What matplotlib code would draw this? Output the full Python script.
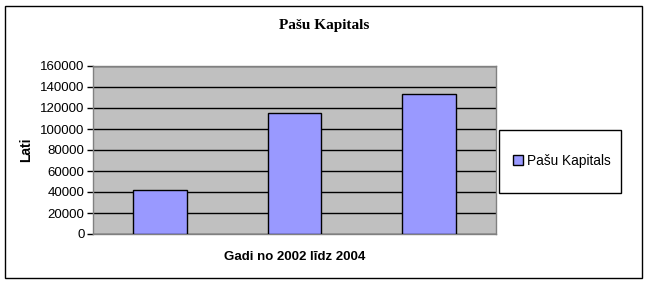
import numpy as np
import matplotlib.pyplot as plt
from matplotlib.patches import Rectangle

# data
years = ['2002', '2003', '2004']
capital = [42000, 115000, 133500]
series_name = 'Pašu Kapitals'

W, H = 648, 284
fig = plt.figure(figsize=(W/100, H/100), dpi=100)
fig.patch.set_facecolor('white')

# outer chart border
fig.add_artist(Rectangle((5/W, 6/H), 637/W, 272/H, transform=fig.transFigure,
                         fill=False, edgecolor='black', linewidth=1))

ax = fig.add_axes([93/W, 50/H, 403/W, 168/H])
ax.set_facecolor('#c0c0c0')
x = np.arange(len(years))
ax.bar(x, capital, width=0.4, color='#9999ff', edgecolor='black',
       linewidth=1, label=series_name, zorder=3)
ax.set_xlim(-0.5, len(years) - 0.5)
ax.set_ylim(0, 160000)
ax.set_yticks(np.arange(0, 160001, 20000))
ax.set_xticks([])
ax.grid(axis='y', color='black', linewidth=1, zorder=1)
for s in ax.spines.values():
    s.set_color('#808080')
    s.set_linewidth(1)
ax.tick_params(axis='y', length=4, width=1, color='black', pad=2,
               labelsize=9.5, labelfontfamily='Liberation Sans')

ax.set_ylabel('Lati', fontsize=10, fontweight='bold', family='Liberation Sans',
              labelpad=5)
ax.set_xlabel('Gadi no 2002 līdz 2004', fontsize=9.5, fontweight='bold',
              family='Liberation Sans', labelpad=12)

fig.text(324/W, 1 - 25/H, 'Pašu Kapitals', ha='center', va='center',
         fontsize=11, fontweight='bold', family='Liberation Serif')

# legend box
fig.add_artist(Rectangle((499/W, 1 - 193/H), 122/W, 63/H, transform=fig.transFigure,
                         fill=False, edgecolor='black', linewidth=1))
leg = fig.legend(loc='center', bbox_to_anchor=(562/W, 1 - 161/H), frameon=False,
                 prop={'family': 'Liberation Sans', 'size': 9.8},
                 handlelength=0.7, handleheight=0.7, handletextpad=0.3)

fig.savefig('out.png', dpi=100)
